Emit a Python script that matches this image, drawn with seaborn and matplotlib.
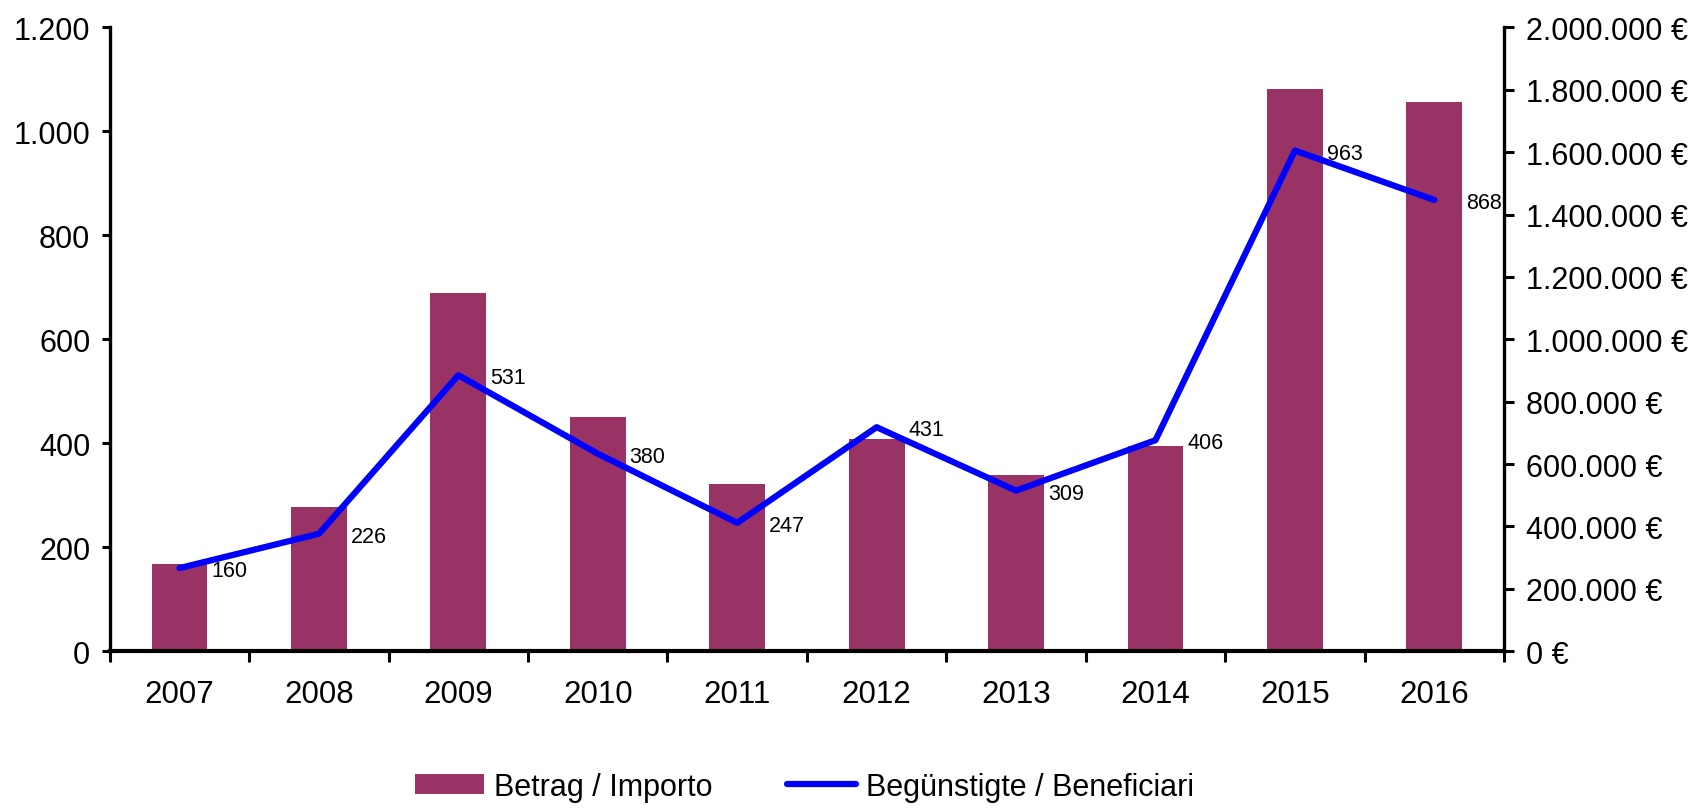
import numpy as np
import matplotlib
matplotlib.use("Agg")
import matplotlib.pyplot as plt
import seaborn as sns

years = ["2007", "2008", "2009", "2010", "2011", "2012", "2013", "2014", "2015", "2016"]
betrag = [280000, 463000, 1148000, 750000, 535000, 680000, 565000, 658000, 1802000, 1761000]
beneficiari = [160, 226, 531, 380, 247, 431, 309, 406, 963, 868]

left_ticks = [0, 200, 400, 600, 800, 1000, 1200]
left_labels = ["0", "200", "400", "600", "800", "1.000", "1.200"]
right_ticks = [0, 200000, 400000, 600000, 800000, 1000000, 1200000, 1400000, 1600000, 1800000, 2000000]
right_labels = ["0 €", "200.000 €", "400.000 €", "600.000 €", "800.000 €", "1.000.000 €",
                "1.200.000 €", "1.400.000 €", "1.600.000 €", "1.800.000 €", "2.000.000 €"]

label_bar = "Betrag / Importo"
label_line = "Begünstigte / Beneficiari"

sns.set_style("white")
FONT = ["Liberation Sans", "DejaVu Sans"]
plt.rcParams["font.family"] = FONT
plt.rcParams["text.color"] = "black"
plt.rcParams["xtick.color"] = "black"
plt.rcParams["ytick.color"] = "black"
plt.rcParams["axes.labelcolor"] = "black"

fig = plt.figure(figsize=(16.97, 8.12), dpi=100)
ax = fig.add_axes([0.0647, 0.1967, 0.8216, 0.7684])
ax2 = ax.twinx()

sns.barplot(x=years, y=betrag, ax=ax2, color="#993366", width=0.40, saturation=1,
            edgecolor="none", label=label_bar)
xpos = np.arange(len(years))
sns.lineplot(x=xpos, y=beneficiari, ax=ax, color="#0000FF", linewidth=4.5, label=label_line,
             solid_capstyle="round")

ax.set_zorder(ax2.get_zorder() + 1)
ax.patch.set_visible(False)

for i, v in enumerate(beneficiari):
    ax.annotate(str(v), (xpos[i], v), xytext=(23, -2), textcoords="offset points",
                ha="left", va="center", fontsize=15.5, color="black")

ax.set_xlim(-0.5, len(years) - 0.5)
ax.set_ylim(0, 1200)
ax2.set_ylim(0, 2000000)

ax.set_yticks(left_ticks)
ax.set_yticklabels(left_labels)
ax2.set_yticks(right_ticks)
ax2.set_yticklabels(right_labels)

ax.set_xticks(np.arange(-0.5, len(years), 1))
ax.set_xticklabels([])
ax.set_xticks(xpos, minor=True)
ax.set_xticklabels(years, minor=True)
ax.tick_params(axis="x", which="major", length=8, width=2.2, direction="out", color="black", bottom=True)
ax.tick_params(axis="x", which="minor", length=0, pad=20, labelsize=22.5)
ax2.tick_params(axis="x", which="both", length=0, labelbottom=False)

ax.tick_params(axis="y", length=6, width=2.2, direction="out", pad=8, labelsize=22, left=True, color="black")
ax2.tick_params(axis="y", length=7, width=2.2, direction="out", pad=9, labelsize=22, right=True, color="black")

for a in (ax, ax2):
    a.set_xlabel("")
    a.set_ylabel("")
    a.spines["top"].set_visible(False)
    lg = a.get_legend()
    if lg is not None:
        lg.remove()

ax.spines["left"].set_linewidth(2.4)
ax.spines["left"].set_color("black")
ax.spines["bottom"].set_linewidth(3)
ax.spines["bottom"].set_color("black")
ax.spines["right"].set_visible(False)
ax2.spines["right"].set_linewidth(2.4)
ax2.spines["right"].set_color("black")
ax2.spines["left"].set_visible(False)
ax2.spines["bottom"].set_visible(False)

h1, l1 = ax2.get_legend_handles_labels()
h2, l2 = ax.get_legend_handles_labels()
fig.legend(h1[:1] + h2[:1], [label_bar, label_line], loc="center", bbox_to_anchor=(0.474, 0.03),
           ncol=2, frameon=False, prop={"family": FONT, "size": 22},
           handlelength=2.25, handleheight=0.65, handletextpad=0.32, columnspacing=2.45)

fig.savefig("out.png", dpi=100)
